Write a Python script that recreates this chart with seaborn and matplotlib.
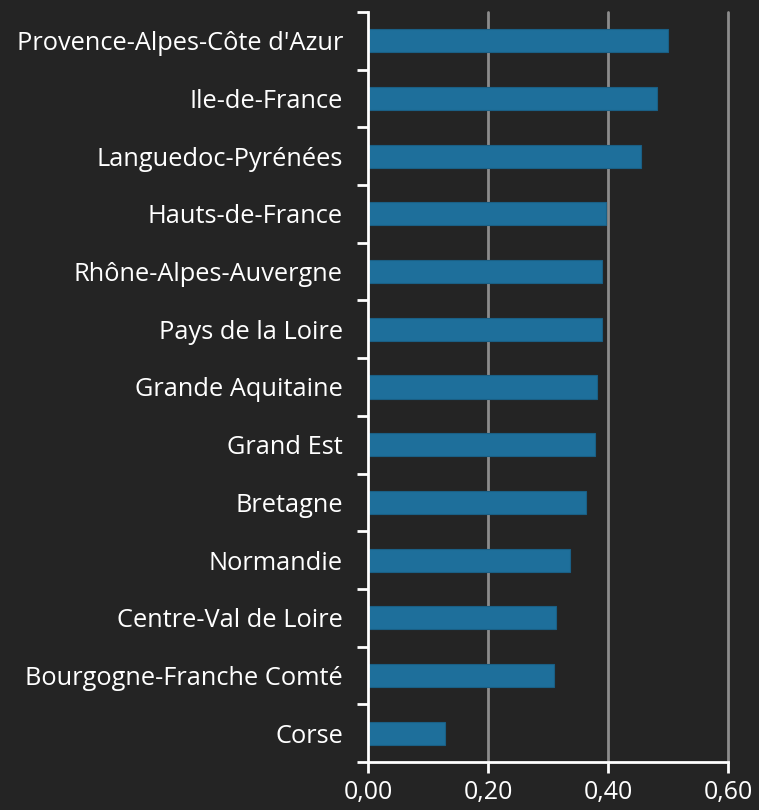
import numpy as np
import pandas as pd
import matplotlib
matplotlib.use("Agg")
import matplotlib.pyplot as plt
from matplotlib.ticker import FuncFormatter, FixedLocator
import seaborn as sns

regions = ["Provence-Alpes-Côte d'Azur", "Ile-de-France", "Languedoc-Pyrénées",
           "Hauts-de-France", "Rhône-Alpes-Auvergne", "Pays de la Loire",
           "Grande Aquitaine", "Grand Est", "Bretagne", "Normandie",
           "Centre-Val de Loire", "Bourgogne-Franche Comté", "Corse"]
values = [0.500, 0.482, 0.455, 0.397, 0.390, 0.390, 0.382, 0.378,
          0.363, 0.336, 0.314, 0.310, 0.129]
xticks = [0.0, 0.2, 0.4, 0.6]

bg = "#242424"
bar_color = "#1e6f9b"

sns.set_theme(style="dark")
plt.rcParams["font.family"] = ["Open Sans", "DejaVu Sans"]

df = pd.DataFrame({"region": regions, "value": values})

fig = plt.figure(figsize=(7.59, 8.10), dpi=100, facecolor=bg)
ax = fig.add_axes([368 / 759, 48 / 810, 360 / 759, 750 / 810])
ax.set_facecolor(bg)

sns.barplot(data=df, x="value", y="region", orient="h", color=bar_color,
            width=0.4, edgecolor="#1a5f85", linewidth=0.8, errorbar=None, ax=ax,
            saturation=1, zorder=3)

ax.set_xlim(0, 0.6)
ax.set_ylim(len(regions) - 0.5, -0.5)
ax.set_xticks(xticks)
ax.xaxis.set_major_formatter(FuncFormatter(lambda v, p: f"{v:.2f}".replace(".", ",")))
ax.set_xlabel("")
ax.set_ylabel("")

# gridlines
for x in xticks[1:]:
    ax.axvline(x, color="#8c8c8c", lw=2, zorder=1, clip_on=False)

for s in ["top", "right"]:
    ax.spines[s].set_visible(False)
for s in ["left", "bottom"]:
    ax.spines[s].set_visible(True)
    ax.spines[s].set_color("white")
    ax.spines[s].set_linewidth(2)
    ax.spines[s].set_zorder(4)

ax.yaxis.set_minor_locator(FixedLocator(np.arange(-0.5, len(regions), 1.0)))
ax.tick_params(axis="y", which="major", length=0, pad=18, labelsize=18.3, labelcolor="white")
ax.tick_params(axis="y", which="minor", left=True, length=8, width=2, color="white", direction="out")
ax.tick_params(axis="x", which="major", bottom=True, length=8, width=2, color="white",
               direction="out", pad=5, labelsize=18, labelcolor="white")
ax.grid(False)

fig.savefig("out.png", dpi=100, facecolor=bg)
